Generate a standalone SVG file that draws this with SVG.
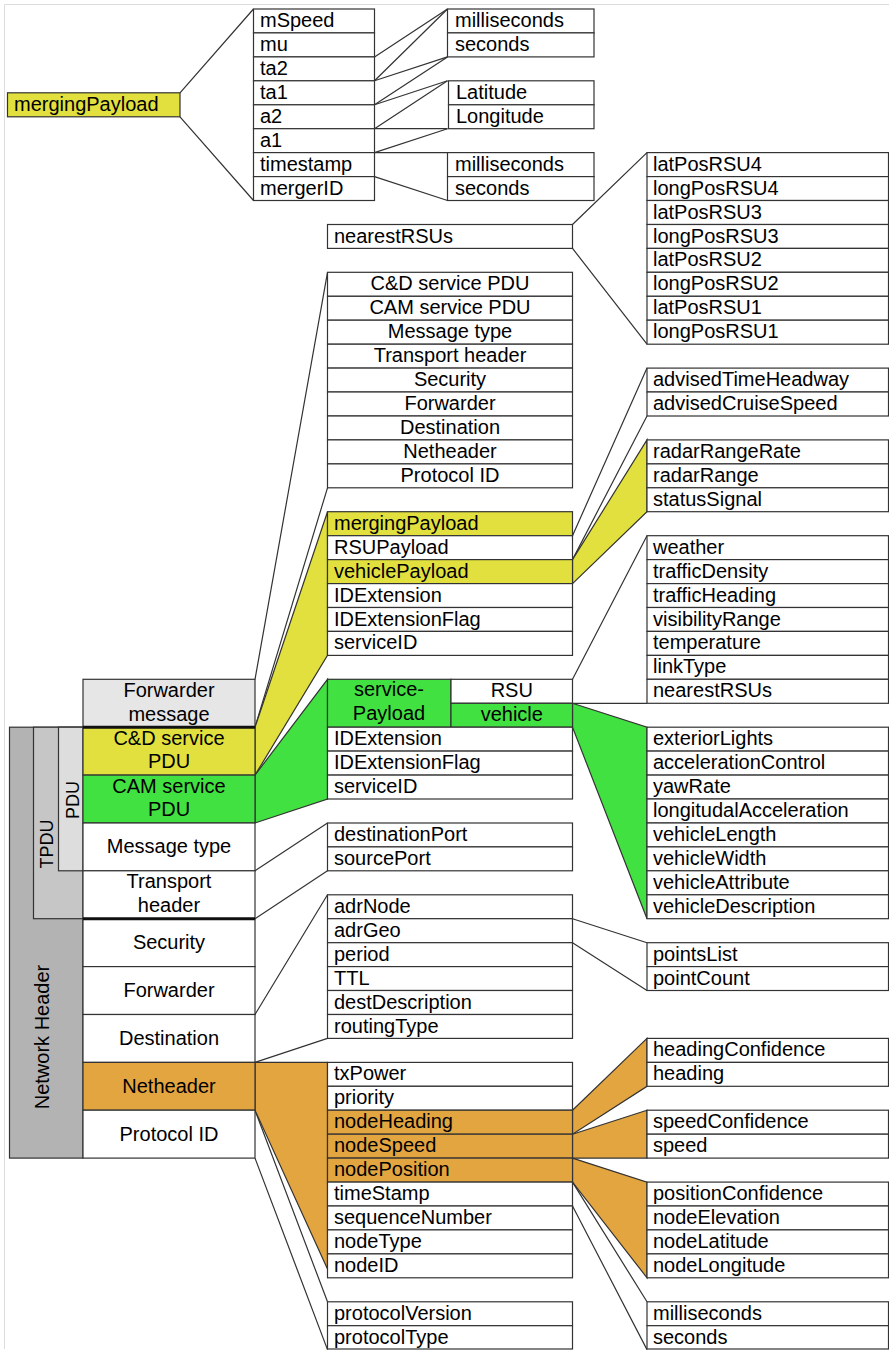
<svg xmlns="http://www.w3.org/2000/svg" width="889" height="1350" viewBox="0 0 889 1350">
<style>
  .b{fill:#fff;stroke:#333;stroke-width:1.2}
  .yl{fill:#e2e03e}
  .gr{fill:#42e142}
  .or{fill:#e3a540}
  .lg{fill:#e6e6e6}
  .ln{fill:none;stroke:#333;stroke-width:1.2}
  .bd{stroke:#333;stroke-width:1.2}
  text{font-family:"Liberation Sans",Arial,sans-serif;font-size:20px;fill:#000}
  .c{text-anchor:middle}
  .v{font-size:18px;text-anchor:middle}
  .thick{stroke:#111;stroke-width:3}
</style>

<!-- frame -->
<path d="M4.5 1349 V4.5 H889" fill="none" stroke="#dcdcdc" stroke-width="1"/>

<!-- connectors and expansion bands -->
<g id="connectors">
  <path class="ln" d="M180 92.8 L253.5 9 M180 116.8 L253.5 200.5"/>
  <path class="ln" d="M374.5 56.9 L447.5 9 M374.5 80.8 L447.5 56.9"/>
  <path class="ln" d="M374.5 80.8 L447.5 9 M374.5 104.8 L447.5 56.9"/>
  <path class="ln" d="M374.5 104.8 L447.5 80.8 M374.5 128.7 L447.5 128.7"/>
  <path class="ln" d="M374.5 128.7 L447.5 80.8 M374.5 152.6 L447.5 128.7"/>
  <path class="ln" d="M374.5 152.6 L447.5 152.6 M374.5 176.6 L447.5 200.5"/>
  <path class="ln" d="M572.5 224.5 L647 152.6 M572.5 248.4 L647 344.2"/>
  <path class="ln" d="M255 679.3 L327.5 272.3 M255 727.2 L327.5 487.8"/>
  <polygon class="yl bd" points="255,727.2 327.5,511.7 327.5,655.4 255,775.1"/>
  <path class="ln" d="M572.5 535.7 L647 368.1 M572.5 559.6 L647 416"/>
  <polygon class="yl bd" points="572.5,559.6 647,439.9 647,511.7 572.5,583.6"/>
  <polygon class="gr bd" points="255,775.1 327.5,679.3 327.5,799 255,823"/>
  <path class="ln" d="M572.5 679.3 L647 535.7 M572.5 703.3 L647 703.3"/>
  <polygon class="gr bd" points="572.5,703.3 647,727.2 647,918.7 572.5,727.2"/>
  <path class="ln" d="M255 870.8 L327.5 823 M255 918.7 L327.5 870.8"/>
  <path class="ln" d="M255 1014.5 L327.5 894.8 M255 1062.4 L327.5 1038.4"/>
  <path class="ln" d="M572.5 918.7 L647 942.7 M572.5 942.7 L647 990.5"/>
  <path class="ln" d="M255 1110.2 L327.5 1301.8 M255 1158.1 L327.5 1349.6"/>
  <polygon class="or bd" points="255,1062.4 327.5,1062.4 327.5,1269 255,1110.2"/>
  <polygon class="or bd" points="572.5,1110.2 647,1038.4 647,1086.3 572.5,1134.2"/>
  <polygon class="or bd" points="572.5,1134.2 647,1110.2 647,1158.1 572.5,1158.1"/>
  <polygon class="or bd" points="572.5,1158.1 647,1182.1 647,1277.8 572.5,1182.1"/>
  <path class="ln" d="M572.5 1182.1 L647 1301.8 M572.5 1206 L647 1349.6"/>
</g>

<!-- layer brackets -->
<g id="layer-network">
  <rect x="9.5" y="727.2" width="73.5" height="430.9" fill="#b3b3b3" stroke="#333" stroke-width="1.2"/>
  <text class="v" style="font-size:20px" transform="translate(49 1037) rotate(-90)">Network Header</text>
</g>
<g id="layer-tpdu">
  <rect x="33.5" y="727.2" width="49.5" height="191.5" fill="#c6c6c6" stroke="#333" stroke-width="1.2"/>
  <text class="v" transform="translate(53 844) rotate(-90)">TPDU</text>
</g>
<g id="layer-pdu">
  <rect x="58.5" y="727.2" width="24.5" height="143.6" fill="#dddddd" stroke="#333" stroke-width="1.2"/>
  <text class="v" transform="translate(78.5 800) rotate(-90)">PDU</text>
</g>

<!-- left stack -->
<g id="forwarder-message"><rect class="b lg" x="83" y="679.3" width="172" height="47.9"/><text class="c" x="169" y="696.8">Forwarder</text><text class="c" x="169" y="720.5">message</text></g>
<g id="cd-service-pdu"><rect class="b yl" x="83" y="727.2" width="172" height="47.9"/><text class="c" x="169" y="744.7">C&amp;D service</text><text class="c" x="169" y="768.2">PDU</text></g>
<g id="cam-service-pdu"><rect class="b gr" x="83" y="775.1" width="172" height="47.9"/><text class="c" x="169" y="792.6">CAM service</text><text class="c" x="169" y="816.1">PDU</text></g>
<g id="message-type"><rect class="b" x="83" y="823" width="172" height="47.8"/><text class="c" x="169" y="853.4">Message type</text></g>
<g id="transport-header"><rect class="b" x="83" y="870.8" width="172" height="47.9"/><text class="c" x="169" y="888.3">Transport</text><text class="c" x="169" y="911.8">header</text></g>
<g id="security"><rect class="b" x="83" y="918.7" width="172" height="47.9"/><text class="c" x="169" y="949.2">Security</text></g>
<g id="forwarder"><rect class="b" x="83" y="966.6" width="172" height="47.9"/><text class="c" x="169" y="997">Forwarder</text></g>
<g id="destination"><rect class="b" x="83" y="1014.5" width="172" height="47.9"/><text class="c" x="169" y="1045">Destination</text></g>
<g id="netheader"><rect class="b or" x="83" y="1062.4" width="172" height="47.8"/><text class="c" x="169" y="1092.8">Netheader</text></g>
<g id="protocol-id"><rect class="b" x="83" y="1110.2" width="172" height="47.9"/><text class="c" x="169" y="1140.7">Protocol ID</text></g>
<path class="thick" d="M83 727.2 H255 M83 918.7 H255"/>

<!-- merging payload detail -->
<g id="merging-payload-top"><rect class="b yl" x="7.5" y="92.8" width="172.5" height="24"/><text x="14" y="111">mergingPayload</text></g>
<g id="merging-fields">
  <rect class="b" x="253.5" y="9" width="121" height="23.9"/><text x="260" y="27">mSpeed</text>
  <rect class="b" x="253.5" y="32.9" width="121" height="24"/><text x="260" y="50.9">mu</text>
  <rect class="b" x="253.5" y="56.9" width="121" height="23.9"/><text x="260" y="74.9">ta2</text>
  <rect class="b" x="253.5" y="80.8" width="121" height="24"/><text x="260" y="98.8">ta1</text>
  <rect class="b" x="253.5" y="104.8" width="121" height="23.9"/><text x="260" y="122.8">a2</text>
  <rect class="b" x="253.5" y="128.7" width="121" height="23.9"/><text x="260" y="146.7">a1</text>
  <rect class="b" x="253.5" y="152.6" width="121" height="24"/><text x="260" y="170.6">timestamp</text>
  <rect class="b" x="253.5" y="176.6" width="121" height="23.9"/><text x="260" y="194.6">mergerID</text>
</g>
<g id="time-units-a">
  <rect class="b" x="447.5" y="9" width="146.5" height="23.9"/><text x="455" y="27">milliseconds</text>
  <rect class="b" x="447.5" y="32.9" width="146.5" height="24"/><text x="455" y="50.9">seconds</text>
</g>
<g id="lat-long">
  <rect class="b" x="448.5" y="80.8" width="145.5" height="24"/><text x="456" y="98.8">Latitude</text>
  <rect class="b" x="448.5" y="104.8" width="145.5" height="23.9"/><text x="456" y="122.8">Longitude</text>
</g>
<g id="time-units-b">
  <rect class="b" x="447.5" y="152.6" width="146.5" height="24"/><text x="455" y="170.6">milliseconds</text>
  <rect class="b" x="447.5" y="176.6" width="146.5" height="23.9"/><text x="455" y="194.6">seconds</text>
</g>

<!-- nearest RSUs detail -->
<g id="nearest-rsus"><rect class="b" x="327.5" y="224.5" width="245" height="23.9"/><text x="334" y="242.5">nearestRSUs</text></g>
<g id="rsu-positions">
  <rect class="b" x="647" y="152.6" width="241.5" height="24"/><text x="653" y="170.6">latPosRSU4</text>
  <rect class="b" x="647" y="176.6" width="241.5" height="23.9"/><text x="653" y="194.6">longPosRSU4</text>
  <rect class="b" x="647" y="200.5" width="241.5" height="24"/><text x="653" y="218.5">latPosRSU3</text>
  <rect class="b" x="647" y="224.5" width="241.5" height="23.9"/><text x="653" y="242.5">longPosRSU3</text>
  <rect class="b" x="647" y="248.4" width="241.5" height="23.9"/><text x="653" y="266.4">latPosRSU2</text>
  <rect class="b" x="647" y="272.3" width="241.5" height="24"/><text x="653" y="290.3">longPosRSU2</text>
  <rect class="b" x="647" y="296.3" width="241.5" height="23.9"/><text x="653" y="314.3">latPosRSU1</text>
  <rect class="b" x="647" y="320.2" width="241.5" height="24"/><text x="653" y="338.2">longPosRSU1</text>
</g>

<!-- forwarder message contents -->
<g id="forwarder-message-fields">
  <rect class="b" x="327.5" y="272.3" width="245" height="24"/><text class="c" x="450" y="290.3">C&amp;D service PDU</text>
  <rect class="b" x="327.5" y="296.3" width="245" height="23.9"/><text class="c" x="450" y="314.3">CAM service PDU</text>
  <rect class="b" x="327.5" y="320.2" width="245" height="24"/><text class="c" x="450" y="338.2">Message type</text>
  <rect class="b" x="327.5" y="344.2" width="245" height="23.9"/><text class="c" x="450" y="362.2">Transport header</text>
  <rect class="b" x="327.5" y="368.1" width="245" height="23.9"/><text class="c" x="450" y="386.1">Security</text>
  <rect class="b" x="327.5" y="392" width="245" height="24"/><text class="c" x="450" y="410">Forwarder</text>
  <rect class="b" x="327.5" y="416" width="245" height="23.9"/><text class="c" x="450" y="434">Destination</text>
  <rect class="b" x="327.5" y="439.9" width="245" height="24"/><text class="c" x="450" y="457.9">Netheader</text>
  <rect class="b" x="327.5" y="463.9" width="245" height="23.9"/><text class="c" x="450" y="481.9">Protocol ID</text>
</g>

<!-- RSU payload detail -->
<g id="rsu-payload-fields">
  <rect class="b" x="647" y="368.1" width="241.5" height="23.9"/><text x="653" y="386.1">advisedTimeHeadway</text>
  <rect class="b" x="647" y="392" width="241.5" height="24"/><text x="653" y="410">advisedCruiseSpeed</text>
</g>
<g id="vehicle-payload-fields">
  <rect class="b" x="647" y="439.9" width="241.5" height="24"/><text x="653" y="457.9">radarRangeRate</text>
  <rect class="b" x="647" y="463.9" width="241.5" height="23.9"/><text x="653" y="481.9">radarRange</text>
  <rect class="b" x="647" y="487.8" width="241.5" height="23.9"/><text x="653" y="505.8">statusSignal</text>
</g>

<!-- C&D service PDU contents -->
<g id="cd-fields">
  <rect class="b yl" x="327.5" y="511.7" width="245" height="24"/><text x="334" y="529.7">mergingPayload</text>
  <rect class="b" x="327.5" y="535.7" width="245" height="23.9"/><text x="334" y="553.7">RSUPayload</text>
  <rect class="b yl" x="327.5" y="559.6" width="245" height="24"/><text x="334" y="577.6">vehiclePayload</text>
  <rect class="b" x="327.5" y="583.6" width="245" height="23.9"/><text x="334" y="601.6">IDExtension</text>
  <rect class="b" x="327.5" y="607.5" width="245" height="23.9"/><text x="334" y="625.5">IDExtensionFlag</text>
  <rect class="b" x="327.5" y="631.4" width="245" height="24"/><text x="334" y="649.4">serviceID</text>
</g>

<!-- RSU service payload detail -->
<g id="rsu-fields">
  <rect class="b" x="647" y="535.7" width="241.5" height="23.9"/><text x="653" y="553.7">weather</text>
  <rect class="b" x="647" y="559.6" width="241.5" height="24"/><text x="653" y="577.6">trafficDensity</text>
  <rect class="b" x="647" y="583.6" width="241.5" height="23.9"/><text x="653" y="601.6">trafficHeading</text>
  <rect class="b" x="647" y="607.5" width="241.5" height="23.9"/><text x="653" y="625.5">visibilityRange</text>
  <rect class="b" x="647" y="631.4" width="241.5" height="24"/><text x="653" y="649.4">temperature</text>
  <rect class="b" x="647" y="655.4" width="241.5" height="23.9"/><text x="653" y="673.4">linkType</text>
  <rect class="b" x="647" y="679.3" width="241.5" height="24"/><text x="653" y="697.3">nearestRSUs</text>
</g>

<!-- CAM service PDU contents -->
<g id="cam-fields">
  <rect class="b gr" x="327.5" y="679.3" width="123.5" height="47.9"/><text class="c" x="389" y="696.3">service-</text><text class="c" x="389" y="720.3">Payload</text>
  <rect class="b" x="451" y="679.3" width="121.5" height="24"/><text class="c" x="511.8" y="696.8">RSU</text>
  <rect class="b gr" x="451" y="703.3" width="121.5" height="23.9"/><text class="c" x="511.8" y="720.5">vehicle</text>
  <rect class="b" x="327.5" y="727.2" width="245" height="23.9"/><text x="334" y="745.2">IDExtension</text>
  <rect class="b" x="327.5" y="751.1" width="245" height="24"/><text x="334" y="769.1">IDExtensionFlag</text>
  <rect class="b" x="327.5" y="775.1" width="245" height="23.9"/><text x="334" y="793.1">serviceID</text>
</g>

<!-- vehicle service payload detail -->
<g id="vehicle-fields">
  <rect class="b" x="647" y="727.2" width="241.5" height="23.9"/><text x="653" y="745.2">exteriorLights</text>
  <rect class="b" x="647" y="751.1" width="241.5" height="24"/><text x="653" y="769.1">accelerationControl</text>
  <rect class="b" x="647" y="775.1" width="241.5" height="23.9"/><text x="653" y="793.1">yawRate</text>
  <rect class="b" x="647" y="799" width="241.5" height="24"/><text x="653" y="817">longitudalAcceleration</text>
  <rect class="b" x="647" y="823" width="241.5" height="23.9"/><text x="653" y="841">vehicleLength</text>
  <rect class="b" x="647" y="846.9" width="241.5" height="23.9"/><text x="653" y="864.9">vehicleWidth</text>
  <rect class="b" x="647" y="870.8" width="241.5" height="24"/><text x="653" y="888.8">vehicleAttribute</text>
  <rect class="b" x="647" y="894.8" width="241.5" height="23.9"/><text x="653" y="912.8">vehicleDescription</text>
</g>

<!-- transport header contents -->
<g id="transport-fields">
  <rect class="b" x="327.5" y="823" width="245" height="23.9"/><text x="334" y="841">destinationPort</text>
  <rect class="b" x="327.5" y="846.9" width="245" height="23.9"/><text x="334" y="864.9">sourcePort</text>
</g>

<!-- destination contents -->
<g id="destination-fields">
  <rect class="b" x="327.5" y="894.8" width="245" height="23.9"/><text x="334" y="912.8">adrNode</text>
  <rect class="b" x="327.5" y="918.7" width="245" height="24"/><text x="334" y="936.7">adrGeo</text>
  <rect class="b" x="327.5" y="942.7" width="245" height="23.9"/><text x="334" y="960.7">period</text>
  <rect class="b" x="327.5" y="966.6" width="245" height="23.9"/><text x="334" y="984.6">TTL</text>
  <rect class="b" x="327.5" y="990.5" width="245" height="24"/><text x="334" y="1008.5">destDescription</text>
  <rect class="b" x="327.5" y="1014.5" width="245" height="23.9"/><text x="334" y="1032.5">routingType</text>
</g>
<g id="geo-fields">
  <rect class="b" x="647" y="942.7" width="241.5" height="23.9"/><text x="653" y="960.7">pointsList</text>
  <rect class="b" x="647" y="966.6" width="241.5" height="23.9"/><text x="653" y="984.6">pointCount</text>
</g>

<!-- netheader contents -->
<g id="netheader-fields">
  <rect class="b" x="327.5" y="1062.4" width="245" height="23.9"/><text x="334" y="1080.4">txPower</text>
  <rect class="b" x="327.5" y="1086.3" width="245" height="23.9"/><text x="334" y="1104.3">priority</text>
  <rect class="b or" x="327.5" y="1110.2" width="245" height="24"/><text x="334" y="1128.2">nodeHeading</text>
  <rect class="b or" x="327.5" y="1134.2" width="245" height="23.9"/><text x="334" y="1152.2">nodeSpeed</text>
  <rect class="b or" x="327.5" y="1158.1" width="245" height="24"/><text x="334" y="1176.1">nodePosition</text>
  <rect class="b" x="327.5" y="1182.1" width="245" height="23.9"/><text x="334" y="1200.1">timeStamp</text>
  <rect class="b" x="327.5" y="1206" width="245" height="23.9"/><text x="334" y="1224">sequenceNumber</text>
  <rect class="b" x="327.5" y="1229.9" width="245" height="24"/><text x="334" y="1247.9">nodeType</text>
  <rect class="b" x="327.5" y="1253.9" width="245" height="23.9"/><text x="334" y="1271.9">nodeID</text>
</g>
<g id="heading-fields">
  <rect class="b" x="647" y="1038.4" width="241.5" height="24"/><text x="653" y="1056.4">headingConfidence</text>
  <rect class="b" x="647" y="1062.4" width="241.5" height="23.9"/><text x="653" y="1080.4">heading</text>
</g>
<g id="speed-fields">
  <rect class="b" x="647" y="1110.2" width="241.5" height="24"/><text x="653" y="1128.2">speedConfidence</text>
  <rect class="b" x="647" y="1134.2" width="241.5" height="23.9"/><text x="653" y="1152.2">speed</text>
</g>
<g id="position-fields">
  <rect class="b" x="647" y="1182.1" width="241.5" height="23.9"/><text x="653" y="1200.1">positionConfidence</text>
  <rect class="b" x="647" y="1206" width="241.5" height="23.9"/><text x="653" y="1224">nodeElevation</text>
  <rect class="b" x="647" y="1229.9" width="241.5" height="24"/><text x="653" y="1247.9">nodeLatitude</text>
  <rect class="b" x="647" y="1253.9" width="241.5" height="23.9"/><text x="653" y="1271.9">nodeLongitude</text>
</g>
<g id="timestamp-units">
  <rect class="b" x="647" y="1301.8" width="241.5" height="23.9"/><text x="653" y="1319.8">milliseconds</text>
  <rect class="b" x="647" y="1325.7" width="241.5" height="23.3"/><text x="653" y="1343.7">seconds</text>
</g>

<!-- protocol ID contents -->
<g id="protocol-fields">
  <rect class="b" x="327.5" y="1301.8" width="245" height="23.9"/><text x="334" y="1319.8">protocolVersion</text>
  <rect class="b" x="327.5" y="1325.7" width="245" height="23.3"/><text x="334" y="1343.7">protocolType</text>
</g>
</svg>
